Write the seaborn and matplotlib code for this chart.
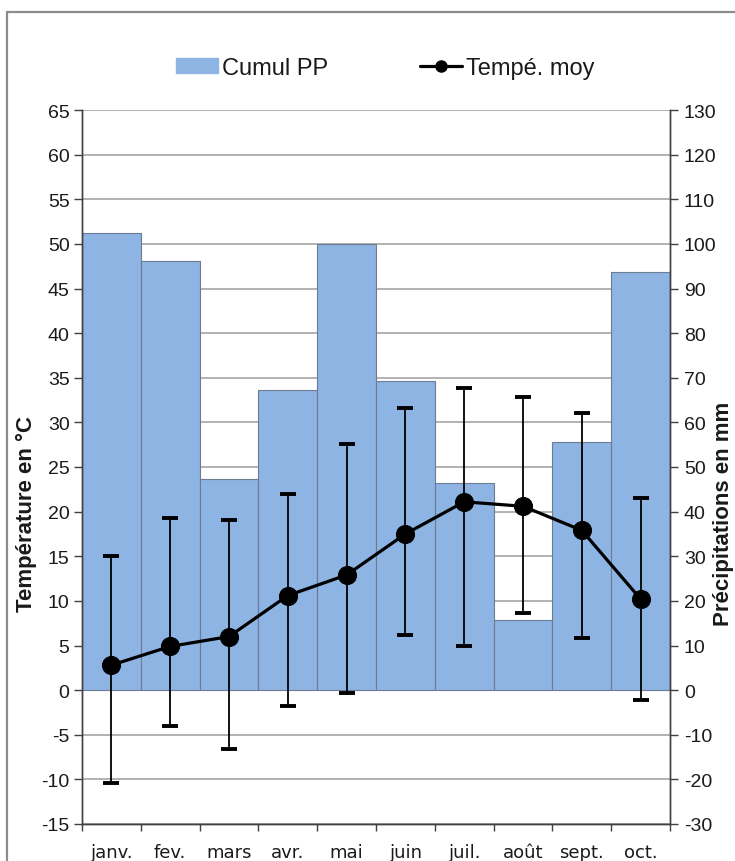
import numpy as np
import pandas as pd
import matplotlib
matplotlib.use("Agg")
import matplotlib.pyplot as plt
import seaborn as sns
from matplotlib.patches import Rectangle, Patch
from matplotlib.lines import Line2D

months = ["janv.", "fev.", "mars", "avr.", "mai", "juin", "juil.", "août", "sept.", "oct."]
precip = [102.4, 96.2, 47.4, 67.2, 100.0, 69.3, 46.4, 15.8, 55.6, 93.7]
temp = [2.8, 4.9, 6.0, 10.6, 12.9, 17.5, 21.1, 20.6, 17.9, 10.2]
temp_low = [-10.4, -4.0, -6.6, -1.8, -0.3, 6.2, 5.0, 8.6, 5.8, -1.1]
temp_high = [15.0, 19.3, 19.1, 22.0, 27.6, 31.6, 33.9, 32.8, 31.0, 21.5]
left_ticks = list(range(-15, 66, 5))
right_ticks = list(range(-30, 131, 10))

sns.set_theme(style="white")
plt.rcParams['font.family'] = ['Liberation Sans', 'DejaVu Sans']
plt.rcParams['axes.unicode_minus'] = False

fig = plt.figure(figsize=(7.35, 8.62), dpi=100)
ax_r = fig.add_axes([82/735, 1-825/862, (670-82)/735, (825-111)/862])
ax_l = ax_r.twinx()
# put left axis (temperature) on top of bars
ax_l.set_zorder(ax_r.get_zorder() + 1)
ax_l.patch.set_visible(False)

df = pd.DataFrame({"mois": months, "precip": precip, "temp": temp})

# bars on right axis (precipitation)
sns.barplot(data=df, x="mois", y="precip", ax=ax_r, color="#8DB4E2",
            saturation=1, width=1.0, edgecolor="#6d7c92", linewidth=0.8, zorder=2)
ax_r.set_ylim(-30, 130)
ax_r.set_yticks(right_ticks)
ax_r.grid(axis="y", color="#a6a6a6", linewidth=1.2, zorder=0)
ax_r.set_axisbelow(True)
ax_r.yaxis.tick_right()
ax_r.yaxis.set_label_position("right")
ax_r.set_ylabel("")
ax_r.set_xlabel("")

# line on left axis (temperature)
x = np.arange(len(months))
t = np.array(temp)
ax_l.errorbar(x, t, yerr=[t - np.array(temp_low), np.array(temp_high) - t],
              fmt="none", ecolor="black", elinewidth=1.3, capsize=5.5, capthick=2.8, zorder=3)
sns.lineplot(x=x, y=t, ax=ax_l, color="black", linewidth=2.3, marker="o",
             markersize=13, markeredgecolor="black", zorder=4)
ax_l.set_ylim(-15, 65)
ax_l.set_yticks(left_ticks)
ax_l.yaxis.tick_left()
ax_l.set_xlim(-0.5, len(months) - 0.5)
ax_r.set_xlim(-0.5, len(months) - 0.5)

# ticks
for a in (ax_l, ax_r):
    for s in a.spines.values():
        s.set_color("#404040")
        s.set_linewidth(1.0)
    a.spines["top"].set_visible(False)
ax_l.tick_params(axis="y", which="both", left=True, right=False, direction="out",
                 length=6, width=1, color="#404040", labelsize=14, pad=3, labelcolor="#1a1a1a")
ax_r.tick_params(axis="y", which="both", right=True, left=False, direction="out",
                 length=6, width=1, color="#404040", labelsize=14, pad=4, labelright=True,
                 labelleft=False, labelcolor="#1a1a1a")
ax_r.set_xticks(x)
ax_r.set_xticklabels(months, family=["DejaVu Sans"])
ax_r.set_xticks(np.arange(-0.5, len(months), 1), minor=True)
ax_r.tick_params(axis="x", which="major", length=0, labelsize=13, pad=14, labelcolor="#1a1a1a")
ax_r.tick_params(axis="x", which="minor", bottom=True, direction="out", length=5, width=1, color="#404040")
ax_l.tick_params(axis="x", which="both", bottom=False, labelbottom=False)
ax_l.set_xlabel("")
ax_l.set_ylabel("")

# axis titles
fig.text(26/735, 1-514/862, "Température en °C", rotation=90, ha="center", va="center",
         fontsize=16, fontweight="bold", color="#1a1a1a")
fig.text(724/735, 1-514/862, "Précipitations en mm", rotation=90, ha="center", va="center",
         fontsize=16, fontweight="bold", color="#1a1a1a")

# legend
handles = [Patch(facecolor="#8DB4E2", edgecolor="#8DB4E2"),
           Line2D([0], [0], color="black", linewidth=2.3, marker="o", markersize=8)]
fig.legend(handles, ["Cumul PP", "Tempé. moy"], loc="center", bbox_to_anchor=(385/735, 1-69/862),
           ncol=2, frameon=False, fontsize=17, handlelength=1.8, handleheight=0.6,
           handletextpad=0.15, columnspacing=3.9, labelcolor="#1a1a1a")

# outer frame
fig.patches.append(Rectangle((7/735, -0.05), 1.0, 1-13/862 + 0.05, transform=fig.transFigure,
                             fill=False, edgecolor="#8c8c8c", linewidth=1.6))

fig.savefig("out.png", dpi=100)
